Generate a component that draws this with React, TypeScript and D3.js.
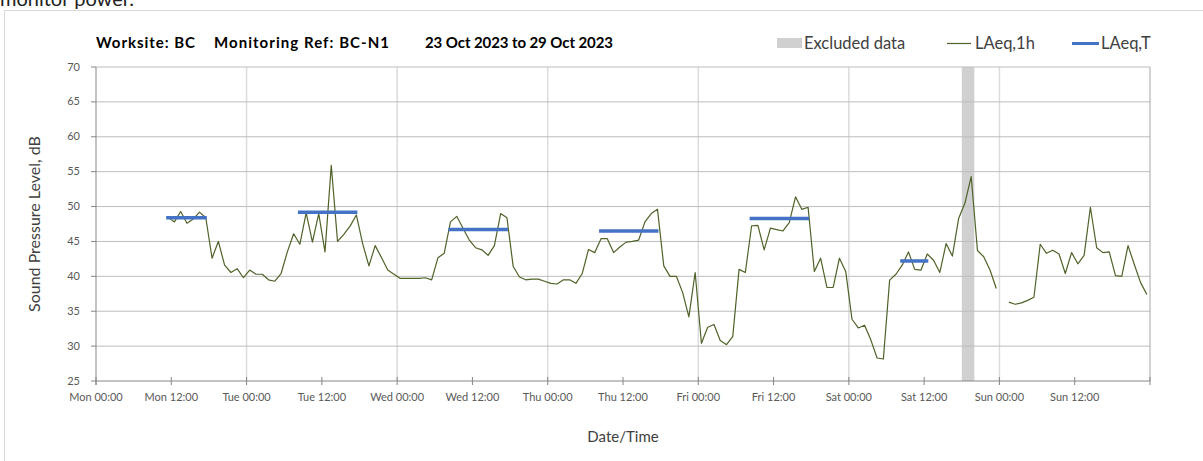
import React from "react";
import * as d3 from "d3";

// ---- data ----
const START = new Date(2023, 9, 23, 0, 0); // Mon 23 Oct 2023 00:00
const END = new Date(2023, 9, 30, 0, 0);
const FIRST_HOUR = 11; // first hourly value: Mon 11:00
const laeq1h: (number | null)[] = [
  48.45, 47.8, 49.3, 47.6, 48.2, 49.2, 48.4, 42.6, 45.0, 41.6, 40.55, 41.1, 39.8,
  40.9, 40.3, 40.3, 39.5, 39.3, 40.4, 43.5, 46.1, 44.6, 49.1, 44.9, 49.0, 43.5, 55.9,
  45.0, 46.0, 47.2, 48.8, 44.7, 41.5, 44.4, 42.7, 40.9, 40.3,
  39.7, 39.7, 39.7, 39.7, 39.8, 39.5, 42.65, 43.3, 47.8, 48.6, 46.9, 45.2, 44.1, 43.8,
  43.0, 44.4, 49.0, 48.4, 41.4, 39.9, 39.5, 39.6, 39.6, 39.3,
  39.0, 38.9, 39.5, 39.5, 39.0, 40.4, 43.85, 43.4, 45.4, 45.4, 43.4, 44.2, 44.9, 45.0,
  45.2, 47.8, 49.0, 49.6, 41.5, 40.0, 40.0, 37.7, 34.2, 40.55,
  30.4, 32.7, 33.1, 30.8, 30.2, 31.4, 41.0, 40.55, 47.25, 47.3, 43.8, 46.9, 46.7, 46.5,
  47.7, 51.4, 49.6, 49.9, 40.7, 42.6, 38.4, 38.4, 42.6, 40.7,
  33.85, 32.6, 33.0, 30.9, 28.3, 28.15, 39.45, 40.3, 41.6, 43.5, 41.0, 40.9, 43.2, 42.3,
  40.55, 44.7, 42.9, 48.3, 50.5, 54.3, 43.7, 42.8, 40.9, 38.25,
  null, 36.3, 36.0, 36.2, 36.55, 37.0, 44.6, 43.3, 43.75, 43.2, 40.4, 43.4, 41.8, 43.0,
  49.9, 44.1, 43.4, 43.5, 40.1, 40.0, 44.4, 41.7, 39.1, 37.4,
];
const periodStartHours = [11, 32, 56, 80, 104, 128];
const periodEndHours = [17, 41, 65, 89, 113, 132];
const periodLAeqT = [48.4, 49.2, 46.7, 46.5, 48.3, 42.2];
const excludedFromHour = 138;
const excludedToHour = 140;
const yTicks = [25, 30, 35, 40, 45, 50, 55, 60, 65, 70];
const xTickHours = [0, 12, 24, 36, 48, 60, 72, 84, 96, 108, 120, 132, 144, 156, 168];
const xLabelHours = [0, 12, 24, 36, 48, 60, 72, 84, 96, 108, 120, 132, 144, 156];
const gridDayHours = [24, 48, 72, 96, 120, 144];

const FONT = "Lato, 'Open Sans', sans-serif";
const GREEN = "#4F6228";
const BLUE = "#4472C4";

const hourDate = (h: number) => new Date(START.getTime() + h * 3600 * 1000);

export default function App() {
  const W = 1203;
  const H = 461;
  const m = { left: 96, right: 1150, top: 67, bottom: 381 };
  const x = d3.scaleTime().domain([START, END]).range([m.left, m.right]);
  const y = d3.scaleLinear().domain([25, 70]).range([m.bottom, m.top]);
  const fmt = d3.timeFormat("%a %H:%M");

  const points = laeq1h.map((v, i) => ({ t: hourDate(FIRST_HOUR + i + 0.5), v }));
  const line = d3
    .line<{ t: Date; v: number | null }>()
    .defined((d) => d.v != null)
    .x((d) => x(d.t))
    .y((d) => y(d.v as number));

  return (
    <svg
      width={W}
      height={H}
      style={{ position: "absolute", left: 0, top: 0, background: "#fff" }}
      fontFamily={FONT}
    >
      <text x={0} y={6} fontSize={20} fill="#222">monitor power.</text>
      <rect x={4.5} y={10.5} width={1300} height={600} fill="#fff" stroke="#d9d9d9" />

      {/* title */}
      <g fontWeight="bold" fontSize={15} fill="#000">
        <text x={96} y={48} textLength={99} lengthAdjust="spacing">Worksite: BC</text>
        <text x={214} y={48} textLength={175} lengthAdjust="spacing">Monitoring Ref: BC-N1</text>
        <text x={425} y={48} textLength={188} lengthAdjust="spacing">23 Oct 2023 to 29 Oct 2023</text>
      </g>

      {/* legend */}
      <g fontSize={16.5} fill="#404040">
        <rect x={777} y={38} width={25} height={10} fill="#d0d0d0" />
        <text x={804} y={49}>Excluded data</text>
        <line x1={947} x2={971} y1={43.5} y2={43.5} stroke={GREEN} strokeWidth={1.2} />
        <text x={975} y={49}>LAeq,1h</text>
        <line x1={1072} x2={1099} y1={43.5} y2={43.5} stroke={BLUE} strokeWidth={3} />
        <text x={1101} y={49}>LAeq,T</text>
      </g>

      {/* excluded band */}
      <rect
        x={x(hourDate(excludedFromHour))}
        y={m.top}
        width={x(hourDate(excludedToHour)) - x(hourDate(excludedFromHour))}
        height={m.bottom - m.top}
        fill="#d0d0d0"
      />

      {/* vertical gridlines */}
      {gridDayHours.map((h) => (
        <line
          key={"vg" + h}
          x1={x(hourDate(h))}
          x2={x(hourDate(h))}
          y1={m.top}
          y2={m.bottom}
          stroke="#dcdcdc"
          strokeWidth={1.5}
        />
      ))}
      {/* horizontal gridlines */}
      {yTicks.slice(1).map((v) => (
        <line
          key={"hg" + v}
          x1={m.left}
          x2={m.right}
          y1={y(v)}
          y2={y(v)}
          stroke="#bdbdbd"
          strokeWidth={1}
        />
      ))}
      {/* right border */}
      <line x1={m.right} x2={m.right} y1={m.top} y2={m.bottom} stroke="#a6a6a6" strokeWidth={1} />

      {/* LAeq,1h */}
      <path d={line(points) || ""} fill="none" stroke={GREEN} strokeWidth={1.2} strokeLinejoin="round" />

      {/* LAeq,T */}
      {periodLAeqT.map((v, i) => (
        <line
          key={"p" + i}
          x1={x(hourDate(periodStartHours[i] + 0.5)) - 2}
          x2={x(hourDate(periodEndHours[i] + 0.5)) + 1}
          y1={y(v)}
          y2={y(v)}
          stroke={BLUE}
          strokeWidth={3.5}
        />
      ))}

      {/* axes */}
      <line x1={m.left} x2={m.left} y1={m.top} y2={m.bottom + 4} stroke="#868686" />
      <line x1={m.left} x2={m.right} y1={m.bottom} y2={m.bottom} stroke="#868686" />
      {yTicks.map((v) => (
        <g key={"yt" + v}>
          <line x1={m.left - 5} x2={m.left} y1={y(v)} y2={y(v)} stroke="#868686" />
          <text x={m.left - 16} y={y(v) + 3.5} fontSize={11} fill="#595959" textAnchor="end">
            {v}
          </text>
        </g>
      ))}
      {xTickHours.map((h) => (
        <line
          key={"xt" + h}
          x1={x(hourDate(h))}
          x2={x(hourDate(h))}
          y1={m.bottom - 4}
          y2={m.bottom + 4}
          stroke="#868686"
        />
      ))}
      {xLabelHours.map((h) => (
        <text
          key={"xl" + h}
          x={x(hourDate(h))}
          y={m.bottom + 20}
          fontSize={11}
          fill="#595959"
          textAnchor="middle"
        >
          {fmt(hourDate(h))}
        </text>
      ))}

      <text x={(m.left + m.right) / 2} y={442} fontSize={15} fill="#404040" textAnchor="middle">
        Date/Time
      </text>
      <text
        transform={`translate(40,${(m.top + m.bottom) / 2}) rotate(-90)`}
        fontSize={16}
        fill="#404040"
        textAnchor="middle"
      >
        Sound Pressure Level, dB
      </text>
    </svg>
  );
}
